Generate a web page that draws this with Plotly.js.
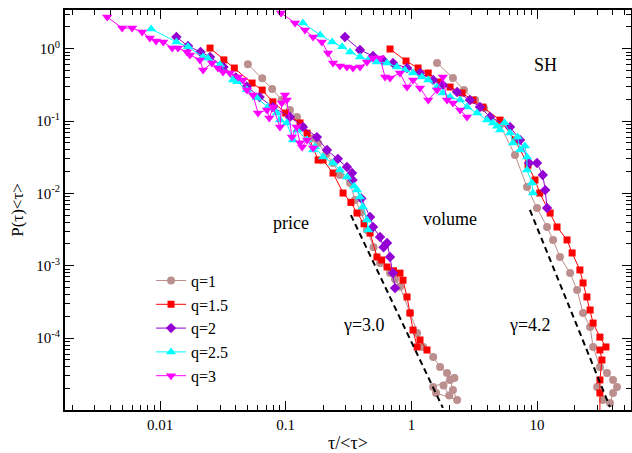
<!DOCTYPE html>
<html>
<head>
<meta charset="utf-8">
<script src="https://cdn.plot.ly/plotly-3.0.1.min.js"></script>
<style>
html,body{margin:0;padding:0;background:#fff}
#chart{width:632px;height:453px}
</style>
</head>
<body>
<div id="chart"></div>
<script>
// ---- data ----
const seriesNames = ['q=1', 'q=1.5', 'q=2', 'q=2.5', 'q=3'];

// price group
const priceX_q1 = [0.050, 0.065, 0.078, 0.093, 0.108, 0.123, 0.137, 0.165, 0.181, 0.21, 0.238, 0.27, 0.325, 0.356, 0.40, 0.443, 0.50, 0.563, 0.676, 0.74, 0.811, 0.975, 1.11, 1.24, 1.49, 1.69, 1.92, 2.03, 2.14, 2.31, 1.57, 1.49, 2.2, 1.8, 2.0];
const priceY_q1 = [0.61, 0.39, 0.277, 0.195, 0.142, 0.114, 0.083, 0.058, 0.0497, 0.035, 0.0263, 0.0179, 0.0139, 0.0081, 0.0055, 0.00311, 0.0018, 0.00109, 0.00079, 0.00065, 0.00051, 0.000222, 0.000117, 0.0000752, 0.0000547, 0.0000398, 0.0000329, 0.0000263, 0.0000191, 0.0000139, 0.0000174, 0.0000210, 0.000028, 0.000022, 0.000016];

const priceX_q15 = [0.025, 0.0322, 0.039, 0.054, 0.065, 0.079, 0.10, 0.13, 0.148, 0.181, 0.198, 0.238, 0.286, 0.33, 0.369, 0.42, 0.469, 0.532, 0.58, 0.640, 0.72, 0.811, 0.857, 0.923, 0.975, 1.03, 1.11, 1.17, 1.33];
const priceY_q15 = [1.02, 0.70, 0.54, 0.335, 0.268, 0.184, 0.129, 0.094, 0.068, 0.0289, 0.0289, 0.0191, 0.0101, 0.0075, 0.00535, 0.0038, 0.00283, 0.00132, 0.0012, 0.00096, 0.00085, 0.00079, 0.00063, 0.00037, 0.000222, 0.000129, 0.0000752, 0.000094, 0.0000683];

const priceX_q2 = [0.0135, 0.0167, 0.021, 0.025, 0.032, 0.040, 0.049, 0.062, 0.079, 0.108, 0.137, 0.177, 0.213, 0.26, 0.307, 0.337, 0.34, 0.40, 0.469, 0.495, 0.563, 0.60, 0.640, 0.676, 0.714, 0.741];
const priceY_q2 = [1.45, 1.09, 0.90, 0.77, 0.56, 0.40, 0.30, 0.215, 0.156, 0.114, 0.083, 0.060, 0.0397, 0.030, 0.0231, 0.0191, 0.0153, 0.0085, 0.00471, 0.00343, 0.00249, 0.0018, 0.00206, 0.00132, 0.00079, 0.00049];

const priceX_q25 = [0.0085, 0.0135, 0.0167, 0.022, 0.024, 0.030, 0.038, 0.041, 0.049, 0.059, 0.072, 0.085, 0.090, 0.102, 0.114, 0.123, 0.148, 0.165, 0.171, 0.198, 0.238, 0.27, 0.307, 0.35, 0.369, 0.390, 0.41, 0.443, 0.452];
const priceY_q25 = [1.87, 1.24, 1.06, 0.77, 0.74, 0.60, 0.37, 0.35, 0.27, 0.21, 0.156, 0.129, 0.103, 0.094, 0.0547, 0.075, 0.055, 0.0397, 0.044, 0.0318, 0.0263, 0.021, 0.0168, 0.0125, 0.0111, 0.0089, 0.0065, 0.00428, 0.00311];

const priceX_q3 = [0.0038, 0.0050, 0.0060, 0.0072, 0.0083, 0.0093, 0.0106, 0.0125, 0.0139, 0.0164, 0.0173, 0.0208, 0.0220, 0.0259, 0.0289, 0.0317, 0.0360, 0.0418, 0.0457, 0.0492, 0.0549, 0.0602, 0.0710, 0.0740, 0.0793, 0.090, 0.093, 0.0986, 0.102, 0.112, 0.122, 0.130, 0.135, 0.148, 0.165];
const priceY_q3 = [2.74, 1.93, 1.93, 1.70, 1.41, 1.28, 1.24, 1.02, 1.02, 0.90, 0.82, 0.70, 0.508, 0.634, 0.541, 0.476, 0.461, 0.406, 0.369, 0.268, 0.229, 0.129, 0.142, 0.110, 0.156, 0.0826, 0.177, 0.229, 0.195, 0.0601, 0.0826, 0.050, 0.0438, 0.0547, 0.0424];

// volume group
const volX_q1 = [1.60, 2.14, 2.62, 3.21, 3.78, 5.07, 6.67, 8.31, 9.98, 12.0, 13.4, 15.2, 18.3, 20.8, 23.2, 26.4, 27.9, 31.6, 36.0, 40.2, 43.2, 40.2, 38.0, 33.4, 30.0];
const volY_q1 = [0.634, 0.394, 0.268, 0.195, 0.151, 0.088, 0.0339, 0.0122, 0.00627, 0.00343, 0.00227, 0.00132, 0.00079, 0.000461, 0.000222, 0.000142, 0.0000752, 0.0000398, 0.0000329, 0.0000263, 0.0000210, 0.0000174, 0.0000126, 0.0000139, 0.0000210];

const volX_q15 = [0.676, 0.906, 1.13, 1.36, 1.69, 2.03, 2.53, 3.09, 3.71, 5.07, 6.67, 8.47, 9.62, 10.5, 12.7, 14.4, 17.3, 19.0, 21.9, 23.2, 24.9, 26.4, 27.9, 31.6, 35.3, 31.6, 32.8, 31.6, 31.6, 31.6];
const volY_q15 = [0.99, 0.676, 0.541, 0.461, 0.347, 0.295, 0.244, 0.195, 0.156, 0.103, 0.0547, 0.0247, 0.0153, 0.0101, 0.00535, 0.00343, 0.00227, 0.00150, 0.000873, 0.000577, 0.00037, 0.000244, 0.000161, 0.000103, 0.0000752, 0.0000683, 0.0000497, 0.0000263, 0.0000174, 0.000009];

const volX_q2 = [0.296, 0.390, 0.495, 0.594, 0.714, 0.923, 1.17, 1.49, 1.78, 2.31, 2.92, 3.51, 4.22, 6.09, 7.31, 8.63, 9.98, 11.1, 11.6, 12.0];
const volY_q2 = [1.45, 0.959, 0.793, 0.698, 0.634, 0.541, 0.461, 0.369, 0.315, 0.252, 0.195, 0.156, 0.114, 0.0826, 0.0547, 0.0263, 0.0263, 0.0179, 0.0111, 0.00627];

const volX_q25 = [0.137, 0.188, 0.234, 0.281, 0.325, 0.390, 0.452, 0.532, 0.640, 0.767, 0.889, 1.03, 1.21, 1.36, 1.60, 1.78, 2.03, 2.44, 2.77, 3.33, 3.99, 4.45, 4.8, 5.07, 5.5, 6.09, 6.43, 7.0, 7.31, 8.0, 8.31, 8.31, 9.10, 9.27];
const volY_q25 = [2.27, 1.55, 1.24, 1.06, 0.90, 0.768, 0.698, 0.655, 0.634, 0.558, 0.508, 0.461, 0.406, 0.369, 0.295, 0.244, 0.215, 0.195, 0.156, 0.129, 0.103, 0.094, 0.085, 0.0752, 0.095, 0.0683, 0.0497, 0.060, 0.0397, 0.045, 0.0318, 0.0210, 0.0139, 0.0101];

const volX_q3 = [0.0918, 0.1186, 0.1425, 0.165, 0.194, 0.217, 0.238, 0.270, 0.307, 0.343, 0.390, 0.443, 0.495, 0.563, 0.617, 0.676, 0.811, 0.923, 1.03, 1.17, 1.36, 1.60, 1.78, 1.92, 2.14, 2.44, 2.77];
const volY_q3 = [3.11, 2.27, 1.81, 1.45, 1.24, 0.873, 0.634, 0.577, 0.558, 0.541, 0.558, 0.655, 0.743, 0.743, 0.406, 0.394, 0.461, 0.295, 0.369, 0.286, 0.195, 0.268, 0.406, 0.195, 0.177, 0.142, 0.114];

// dashed power-law guides
const fitPriceX = [0.330, 1.78];
const fitPriceY = [0.00501, 0.0000108];
const fitVolX = [8.77, 38.0];
const fitVolY = [0.00589, 0.0000111];

// tick labels
const xTickVals = [0.01, 0.1, 1, 10];
const xTickText = ['0.01', '0.1', '1', '10'];
const yTickVals = [1, 0.1, 0.01, 0.001, 0.0001];
const yTickText = ['10<sup>0</sup>', '10<sup>-1</sup>', '10<sup>-2</sup>', '10<sup>-3</sup>', '10<sup>-4</sup>'];

// ---- styles ----
const colors = ['#bc8f8f', '#ff0000', '#9400d3', '#00ffff', '#ff00ff'];
const symbols = ['circle', 'square', 'diamond', 'triangle-up', 'triangle-down'];
const sizes = [8, 7, 8, 9, 9];

const priceX = [priceX_q1, priceX_q15, priceX_q2, priceX_q25, priceX_q3];
const priceY = [priceY_q1, priceY_q15, priceY_q2, priceY_q25, priceY_q3];
const volX = [volX_q1, volX_q15, volX_q2, volX_q25, volX_q3];
const volY = [volY_q1, volY_q15, volY_q2, volY_q25, volY_q3];

const traces = [];
for (let i = 0; i < seriesNames.length; i++) {
  const common = {
    type: 'scatter', mode: 'lines+markers',
    legendgroup: seriesNames[i],
    line: {color: colors[i], width: 1},
    marker: {color: colors[i], symbol: symbols[i], size: sizes[i]},
    cliponaxis: true
  };
  traces.push(Object.assign({}, common, {x: priceX[i], y: priceY[i], name: seriesNames[i], showlegend: true}));
  traces.push(Object.assign({}, common, {x: volX[i], y: volY[i], name: seriesNames[i], showlegend: false}));
}
traces.push({type: 'scatter', mode: 'lines', x: fitPriceX, y: fitPriceY, showlegend: false, line: {color: '#000', width: 2, dash: '6px,4px'}});
traces.push({type: 'scatter', mode: 'lines', x: fitVolX, y: fitVolY, showlegend: false, line: {color: '#000', width: 2, dash: '6px,4px'}});

function minorVals(lo, hi) {
  const v = [];
  for (let e = lo; e <= hi; e++) for (let m = 2; m <= 9; m++) v.push(m * Math.pow(10, e));
  return v;
}

const axisCommon = {
  type: 'log', showgrid: false, zeroline: false,
  showline: true, linecolor: '#000', linewidth: 2, mirror: 'ticks',
  ticks: 'inside', ticklen: 9, tickwidth: 1, tickcolor: '#000',
  tickmode: 'array',
  tickfont: {family: 'Liberation Serif', size: 15, color: '#000'}
};

const layout = {
  width: 632, height: 453,
  margin: {l: 65, r: 1, t: 10, b: 43},
  paper_bgcolor: '#fff', plot_bgcolor: '#fff',
  font: {family: 'Liberation Serif', color: '#000'},
  xaxis: Object.assign({}, axisCommon, {
    range: [-2.756, 1.747],
    tickvals: xTickVals, ticktext: xTickText,
    minor: {ticks: 'inside', ticklen: 5, tickwidth: 1, tickcolor: '#000', tickmode: 'array', tickvals: minorVals(-3, 1), showgrid: false},
    title: {text: 'τ/&lt;τ&gt;', font: {family: 'Liberation Serif', size: 18, color: '#000'}, standoff: 8}
  }),
  yaxis: Object.assign({}, axisCommon, {
    range: [-4.995, 0.535],
    tickvals: yTickVals, ticktext: yTickText,
    minor: {ticks: 'inside', ticklen: 5, tickwidth: 1, tickcolor: '#000', tickmode: 'array', tickvals: minorVals(-5, 0), showgrid: false},
    title: {text: 'P(τ)&lt;τ&gt;', font: {family: 'Liberation Serif', size: 17, color: '#000'}, standoff: 8}
  }),
  legend: {
    x: 0.152, y: 0.366, xanchor: 'left', yanchor: 'top',
    bgcolor: 'rgba(0,0,0,0)', borderwidth: 0,
    font: {family: 'Liberation Serif', size: 16, color: '#000'},
    tracegroupgap: 0
  },
  annotations: [
    {text: 'price', xref: 'paper', yref: 'paper', x: 0.399, y: 0.4675, showarrow: false, font: {family: 'Liberation Serif', size: 18, color: '#000'}},
    {text: 'volume', xref: 'paper', yref: 'paper', x: 0.731, y: 0.4775, showarrow: false, font: {family: 'Liberation Serif', size: 18, color: '#000'}},
    {text: 'SH', xref: 'paper', yref: 'paper', x: 0.873, y: 0.8925, showarrow: false, font: {family: 'Liberation Serif', size: 18, color: '#000'}},
    {text: 'γ=3.0', xref: 'paper', yref: 'paper', x: 0.528, y: 0.1825, showarrow: false, font: {family: 'Liberation Serif', size: 18, color: '#000'}},
    {text: 'γ=4.2', xref: 'paper', yref: 'paper', x: 0.862, y: 0.1825, showarrow: false, font: {family: 'Liberation Serif', size: 18, color: '#000'}}
  ]
};

Plotly.newPlot('chart', traces, layout, {displayModeBar: false, staticPlot: true});
</script>
</body>
</html>
